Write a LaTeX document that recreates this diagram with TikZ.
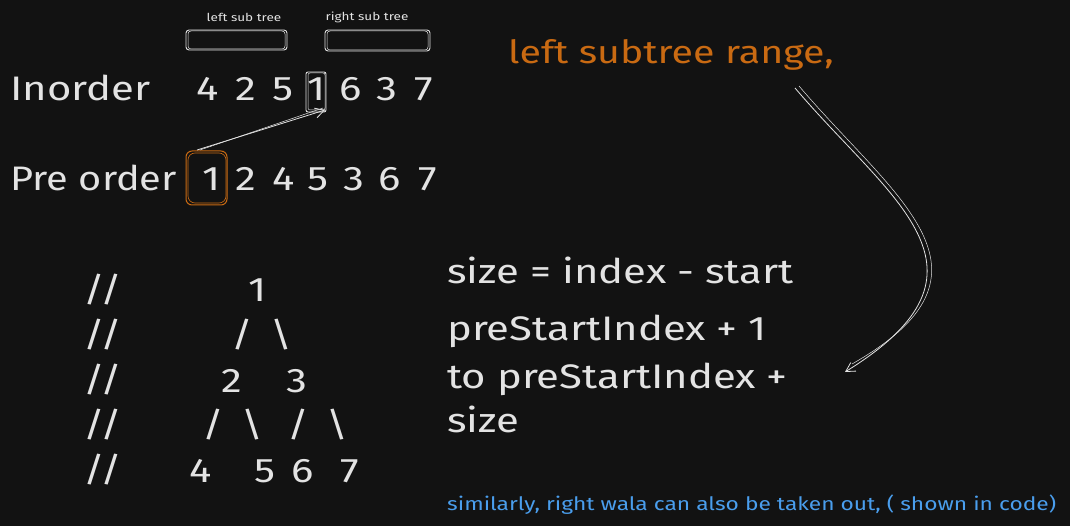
\documentclass[tikz,border=0pt]{standalone}
\usepackage{fontspec}
\setmainfont{Fira Sans}[FakeStretch=1.23]
\usetikzlibrary{arrows.meta}
\definecolor{bgc}{HTML}{121212}
\definecolor{ink}{HTML}{E3E3E3}
\definecolor{orng}{HTML}{C96A12}
\definecolor{blu}{HTML}{4A9EED}
\tikzset{
  big/.style={text=ink,font=\fontsize{34}{36}\selectfont,inner sep=0pt},
  dig/.style={text=ink,font=\fontsize{34}{36}\selectfont,inner sep=0pt,anchor=base},
  small/.style={text=ink,font=\fontsize{11}{13}\selectfont,inner sep=0pt},
  sketch/.style={draw=ink,line width=0.9pt,rounded corners=3pt},
  conn/.style={draw=ink,line width=0.8pt,-{Straight Barb[length=9pt,width=10pt]}},
}
\begin{document}
\begin{tikzpicture}[x=1pt,y=-1pt]
\fill[bgc] (0,0) rectangle (1070,526);
\useasboundingbox (0,0) rectangle (1070,526);
% small labels
\node[small] (lst) at (244,17) {left sub tree};
\node[small] (rst) at (367,17) {right sub tree};
\draw[sketch] (186,30) rectangle (287,50);
\draw[sketch,line width=0.5pt] (188,31) rectangle (285,49);
\draw[sketch] (325,30) rectangle (430,51);
\draw[sketch,line width=0.5pt] (327,31) rectangle (428,50);
% Inorder
\node[big,anchor=base west] (ino) at (10,101) {Inorder};
\node[dig] (i1) at (208,101) {4};
\node[dig] (i2) at (246,101) {2};
\node[dig] (i3) at (283,101) {5};
\node[dig] (i4) at (317,101) {1};
\node[dig] (i5) at (351,101) {6};
\node[dig] (i6) at (387,101) {3};
\node[dig] (i7) at (424,101) {7};
\draw[sketch,rounded corners=2pt] (306,72) rectangle (326,112);
\draw[sketch,rounded corners=2pt,line width=0.5pt] (308,73) rectangle (325,110);
% Pre order
\node[big,anchor=base west,xscale=0.95] (pre) at (10,191) {Pre order};
\node[dig] (p1) at (212,191) {1};
\node[dig] (p2) at (246,191) {2};
\node[dig] (p3) at (284,191) {4};
\node[dig] (p4) at (318,191) {5};
\node[dig] (p5) at (354,191) {3};
\node[dig] (p6) at (390,191) {6};
\node[dig] (p7) at (428,191) {7};
\draw[draw=orng,line width=1pt,rounded corners=6pt] (186,151) rectangle (227,205);
\draw[draw=orng,line width=0.6pt,rounded corners=7pt] (188,153) rectangle (226,203);
\coordinate (as) at (197,150);
\coordinate (ae) at (325,110);
\draw[conn] (as) -- (ae);
\draw[draw=ink,line width=0.5pt] ([xshift=3pt]as) -- ([xshift=-2pt,yshift=2pt]ae);
% orange heading
\node[text=orng,font=\fontsize{32}{34}\selectfont,inner sep=0pt,anchor=base west] (lsr) at (508,64) {left subtree range,};
% curved arrow
\coordinate (cs) at (795,88);
\coordinate (ce) at (845,372);
\draw[conn] (cs) .. controls (890,200) and (1010,270) .. (ce);
\draw[draw=ink,line width=0.5pt] (799,86) .. controls (894,198) and (1014,272) .. (852,364);
% tree
\foreach \yy/\nm in {290/s1,335/s2,380/s3,425/s4,470/s5}{
  \node[big] (\nm) at (103,\yy) {//};
}
\node[dig] (t1) at (258,302) {1};
\node[big] (t2) at (262,335) {/\hspace{18pt}\textbackslash};
\node[dig] (t3) at (232,392) {2};
\node[dig] (t4) at (297,392) {3};
\node[big] (t5) at (233,425) {/\hspace{18pt}\textbackslash};
\node[big] (t6) at (318,425) {/\hspace{18pt}\textbackslash};
\node[dig] (t7) at (201,482) {4};
\node[dig] (t8) at (265,482) {5};
\node[dig] (t9) at (303,482) {6};
\node[dig] (t10) at (350,482) {7};
% right texts
\node[big,anchor=base west] (r1) at (447,284) {size = index - start};
\node[big,anchor=base west] (r2) at (447,340) {preStartIndex + 1};
\node[big,anchor=base west] (r3) at (447,388) {to preStartIndex +};
\node[big,anchor=base west] (r4) at (447,432) {size};
\node[text=blu,font=\fontsize{18.5}{20}\selectfont,inner sep=0pt,anchor=base west] (bl) at (447,510) {similarly, right wala can also be taken out, ( shown in code)};
\end{tikzpicture}
\end{document}
